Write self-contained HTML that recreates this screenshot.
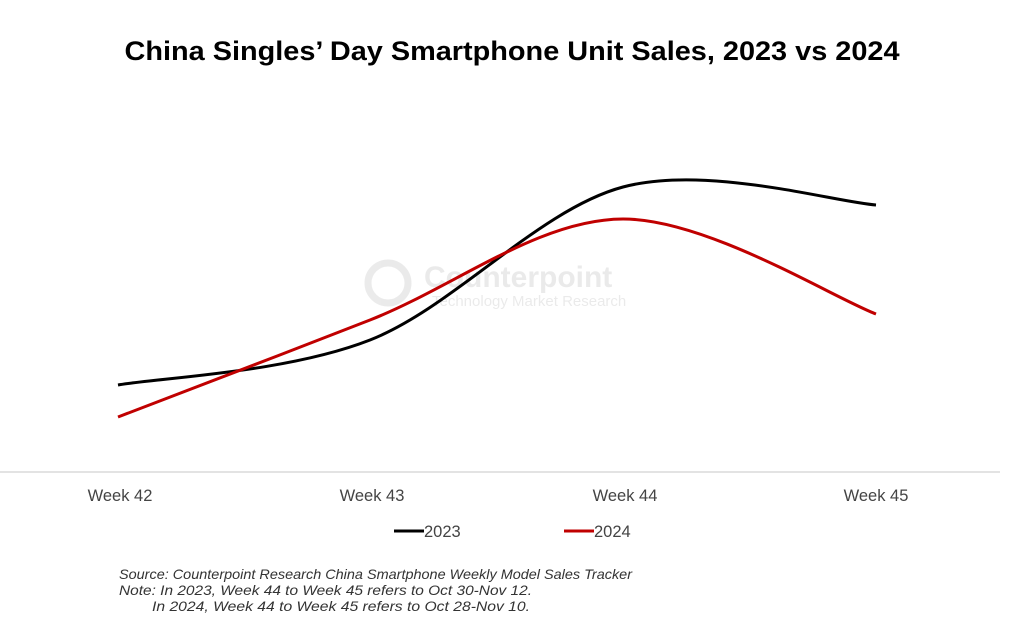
<!DOCTYPE html>
<html><head><meta charset="utf-8"><style>
body{margin:0;background:#fff;width:1024px;height:625px;overflow:hidden;font-family:"Liberation Sans",sans-serif}
</style></head><body>
<svg width="1024" height="625" xmlns="http://www.w3.org/2000/svg">
<text x="512" y="60" text-anchor="middle" font-family="Liberation Sans" font-weight="bold" font-size="27" textLength="775" lengthAdjust="spacingAndGlyphs" fill="#000">China Singles’ Day Smartphone Unit Sales, 2023 vs 2024</text>
<g opacity="0.13" fill="#666">
<circle cx="388" cy="283" r="20" fill="none" stroke="#666" stroke-width="7"/>
<text x="424" y="287" font-size="30" font-weight="bold">Counterpoint</text>
<text x="432" y="306" font-size="15">Technology Market Research</text>
</g>
<line x1="0" y1="472" x2="1000" y2="472" stroke="#e3e3e3" stroke-width="2"/>
<path d="M118,385 C160,377.5 285.8,373 370,340 C454.2,307 538.7,209.5 623,187 C707.3,164.5 833.8,202 876,205" fill="none" stroke="#000" stroke-width="3"/>
<path d="M118,417 C160,400.8 285.8,353 370,320 C454.2,287 538.7,219.2 623,219 C707.3,218.8 833.8,298.2 876,314" fill="none" stroke="#c00000" stroke-width="3"/>
<g font-size="16.5" fill="#444" text-anchor="middle">
<text x="120" y="501">Week 42</text><text x="372" y="501">Week 43</text><text x="625" y="501">Week 44</text><text x="876" y="501">Week 45</text>
</g>
<line x1="394" y1="531" x2="424" y2="531" stroke="#000" stroke-width="3"/>
<text x="424" y="537" font-size="16.5" fill="#444">2023</text>
<line x1="564" y1="531" x2="594" y2="531" stroke="#c00000" stroke-width="3"/>
<text x="594" y="537" font-size="16.5" fill="#444">2024</text>
<g font-size="14" font-style="italic" fill="#333">
<text x="119" y="579" textLength="513" lengthAdjust="spacingAndGlyphs">Source: Counterpoint Research China Smartphone Weekly Model Sales Tracker</text>
<text x="119" y="595" textLength="413" lengthAdjust="spacingAndGlyphs">Note: In 2023, Week 44 to Week 45 refers to Oct 30-Nov 12.</text>
<text x="152" y="611" textLength="378" lengthAdjust="spacingAndGlyphs">In 2024, Week 44 to Week 45 refers to Oct 28-Nov 10.</text>
</g>
</svg>
</body></html>
